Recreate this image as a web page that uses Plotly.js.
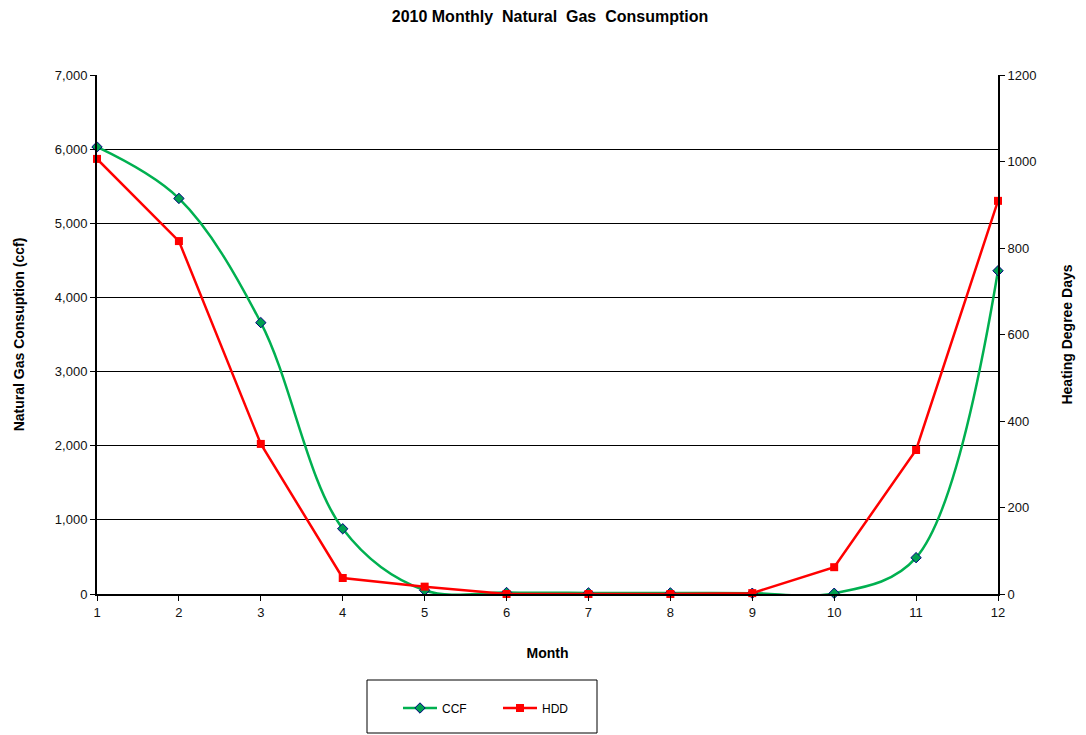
<!DOCTYPE html>
<html>
<head>
<meta charset="utf-8">
<script src="https://cdn.plot.ly/plotly-3.0.1.min.js"></script>
<style>
html,body{margin:0;padding:0;background:#fff;}
#chart{width:1086px;height:735px;}
</style>
</head>
<body>
<div id="chart"></div>
<script>
const months = [1,2,3,4,5,6,7,8,9,10,11,12];
const ccf = [6030, 5335, 3660, 880, 50, 20, 15, 15, 10, 10, 490, 4360];
const hdd = [1006, 816, 347, 37, 17, 0, 0, 0, 2, 62, 333, 909];
const leftTicks = [0,1000,2000,3000,4000,5000,6000,7000];
const rightTicks = [0,200,400,600,800,1000,1200];

const W = 1086, H = 735;
const L = 97, R = 998, T = 75, B = 594;
const pw = R - L, ph = B - T;
const px = v => (v - L) / pw;
const py = v => (B - v) / ph;

const fam = 'Liberation Sans, Arial, sans-serif';
const font = {family: fam, size: 13, color: '#000'};
const tickfont = {family: fam, size: 13, color: '#111'};
const titlefont = {family: fam, size: 14, color: '#000'};

const traces = [
  {
    x: months, y: ccf, name: 'CCF', type: 'scatter', mode: 'lines+markers',
    line: {color: '#00b050', width: 2.5, shape: 'spline', smoothing: 1},
    marker: {symbol: 'diamond', size: 8, color: '#00a050', line: {color: '#000080', width: 1}},
    cliponaxis: false,
    yaxis: 'y'
  },
  {
    x: months, y: hdd, name: 'HDD', type: 'scatter', mode: 'lines+markers',
    line: {color: '#ff0000', width: 2.5},
    marker: {symbol: 'square', size: 8, color: '#ff0000'},
    cliponaxis: false,
    yaxis: 'y2'
  }
];

const layout = {
  width: W, height: H,
  margin: {l: L, r: W - R, t: T, b: H - B, pad: 0},
  paper_bgcolor: '#fff', plot_bgcolor: '#fff',
  font: font,
  title: {text: '<b>2010 Monthly&nbsp; Natural&nbsp; Gas&nbsp; Consumption</b>', x: 550 / W, xanchor: 'center', y: 1 - 16 / H, yanchor: 'middle',
          font: {family: fam, size: 16, color: '#000'}},
  showlegend: true,
  legend: {orientation: 'h', x: px(398), xanchor: 'left', y: -(708 - B) / ph, yanchor: 'middle',
           font: {family: fam, size: 12, color: '#000'}, bgcolor: 'rgba(0,0,0,0)', borderwidth: 0,
           itemwidth: 34, entrywidth: 51},
  xaxis: {
    range: [1, 12], tickvals: months, ticktext: months.map(String),
    showline: true, linecolor: '#000', linewidth: 2, ticks: 'outside', ticklen: 5, tickwidth: 1, tickcolor: '#000',
    showgrid: false, zeroline: false, tickfont: tickfont,
    title: {text: '<b>Month</b>', standoff: 30, font: titlefont},
    automargin: false
  },
  yaxis: {
    range: [0, 7000], tickvals: leftTicks, tickformat: ',d',
    showline: true, linecolor: '#000', linewidth: 2, ticks: 'outside', ticklen: 5, tickwidth: 1, tickcolor: '#000',
    showgrid: true, gridcolor: '#000', gridwidth: 1, zeroline: false,
    tickfont: tickfont,
    title: {text: '<b>Natural Gas Consuption (ccf)</b>', standoff: 27, font: titlefont},
    automargin: false
  },
  yaxis2: {
    range: [0, 1200], tickvals: rightTicks, tickformat: 'd', overlaying: 'y', side: 'right',
    showline: true, linecolor: '#000', linewidth: 2, ticks: 'outside', ticklen: 5, tickwidth: 1, tickcolor: '#000',
    showgrid: false, zeroline: false,
    tickfont: tickfont,
    title: {text: '<b>Heating Degree Days</b>', standoff: 27, font: titlefont},
    automargin: false
  },
  shapes: [
    {type: 'rect', xref: 'paper', yref: 'paper', x0: px(367), x1: px(597), y0: -(733 - B) / ph, y1: -(680 - B) / ph,
     line: {color: '#000', width: 1}, fillcolor: 'rgba(0,0,0,0)', layer: 'above'}
  ]
};

Plotly.newPlot('chart', traces, layout, {displayModeBar: false, staticPlot: true});
</script>
</body>
</html>
